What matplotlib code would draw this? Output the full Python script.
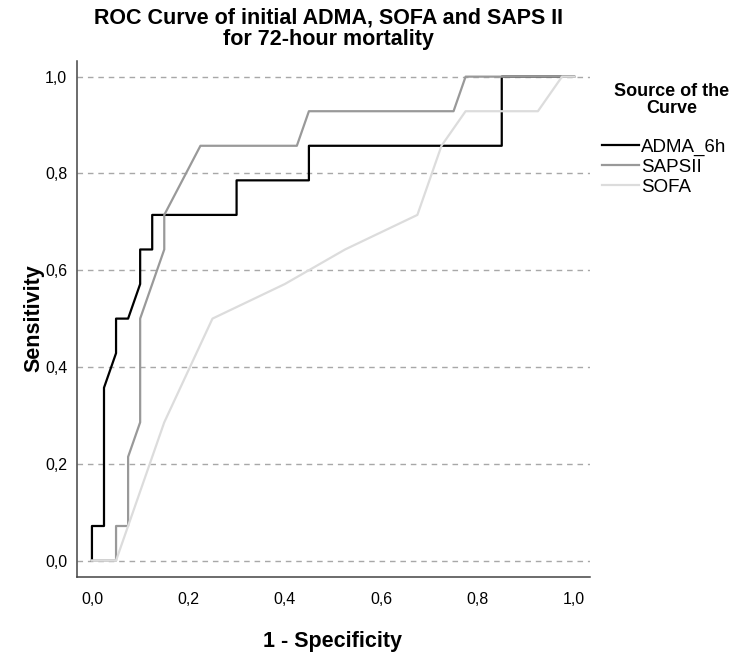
import numpy as np
import matplotlib
matplotlib.use("Agg")
import matplotlib.pyplot as plt
from matplotlib.ticker import FuncFormatter

plt.rcParams['font.family'] = ['Liberation Sans', 'DejaVu Sans']

# ROC points (sensitivity in 14ths)
adma_fpr = [0, 0, 0.025, 0.025, 0.05, 0.05, 0.075, 0.1, 0.1, 0.125, 0.125, 0.3, 0.3, 0.45, 0.45, 0.85, 0.85, 1.0]
adma_tpr = np.array([0, 1, 1, 5, 6, 7, 7, 8, 9, 9, 10, 10, 11, 11, 12, 12, 14, 14]) / 14.

saps_fpr = [0, 0.05, 0.05, 0.075, 0.075, 0.1, 0.1, 0.15, 0.15, 0.225, 0.425, 0.45, 0.75, 0.775, 1.0]
saps_tpr = np.array([0, 0, 1, 1, 3, 4, 7, 9, 10, 12, 12, 13, 13, 14, 14]) / 14.

sofa_fpr = [0, 0.05, 0.15, 0.25, 0.4, 0.525, 0.675, 0.725, 0.775, 0.925, 0.975, 1.0]
sofa_tpr = np.array([0, 0, 4, 7, 8, 9, 10, 12, 13, 13, 14, 14]) / 14.

curve_names = ['ADMA_6h', 'SAPSII', 'SOFA']
curve_colors = ['#000000', '#999999', '#dcdcdc']
ticks = [0.0, 0.2, 0.4, 0.6, 0.8, 1.0]

W, H = 749., 656.
fig = plt.figure(figsize=(W / 100, H / 100), dpi=100)
ax = fig.add_axes([0.1028, 0.1204, 0.6849, 0.7871])

for y in ticks:
    ax.axhline(y, color='#a8a8a8', lw=1.0, dashes=(4, 3.5), zorder=1)

lines = []
for fpr, tpr, name, col in zip([adma_fpr, saps_fpr, sofa_fpr],
                               [adma_tpr, saps_tpr, sofa_tpr],
                               curve_names, curve_colors):
    l, = ax.plot(fpr, tpr, color=col, lw=1.6, label=name, zorder=2)
    lines.append(l)

ax.set_xlim(-0.031, 1.033)
ax.set_ylim(-0.034, 1.033)
ax.set_xticks(ticks)
ax.set_yticks(ticks)
fmt = FuncFormatter(lambda v, p: ('%.1f' % v).replace('.', ','))
ax.xaxis.set_major_formatter(fmt)
ax.yaxis.set_major_formatter(fmt)
ax.tick_params(axis='x', length=0, pad=11, labelsize=11.5, colors='#000000')
ax.tick_params(axis='y', length=0, pad=7, labelsize=11.5, colors='#000000')

for s in ['top', 'right']:
    ax.spines[s].set_visible(False)
for s in ['left', 'bottom']:
    ax.spines[s].set_color('#444444')
    ax.spines[s].set_linewidth(1.1)

fig.text(0.439, 0.988, 'ROC Curve of initial ADMA, SOFA and SAPS II\nfor 72-hour mortality',
         ha='center', va='top', fontsize=15.5, fontweight='bold', linespacing=1.0)
fig.text(0.444, 1 - 641 / H, '1 - Specificity', ha='center', va='center',
         fontsize=15.5, fontweight='bold')
fig.text(0.045, 0.515, 'Sensitivity', ha='center', va='center', rotation=90,
         fontsize=15.5, fontweight='bold')

# legend title placed on its own, centred like the original
fig.text(672 / W, 1 - 100 / H, 'Source of the\nCurve', ha='center', va='center',
         multialignment='center', fontsize=13, fontweight='bold', linespacing=1.05)
fig.legend(handles=lines, loc='center left', bbox_to_anchor=(602 / W, 1 - 167 / H),
           frameon=False, fontsize=13.5, handlelength=1.95, handletextpad=0.12,
           labelspacing=0.15, borderpad=0, borderaxespad=0)

fig.savefig('out.png', dpi=100)
